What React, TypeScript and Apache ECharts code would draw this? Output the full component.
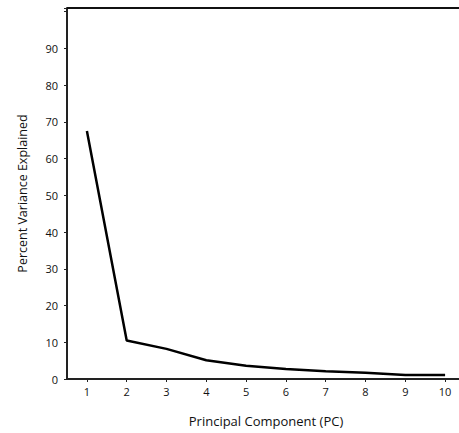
import React, { useEffect, useRef } from "react";
import * as echarts from "echarts";

const categories = ["1", "2", "3", "4", "5", "6", "7", "8", "9", "10"];
const variance = [67.5, 10.5, 8.2, 5.1, 3.6, 2.7, 2.1, 1.7, 1.1, 1.1];
const yTicks = [0, 10, 20, 30, 40, 50, 60, 70, 80, 90];
const yMax = 101;

export default function App() {
  const ref = useRef<HTMLDivElement>(null);
  useEffect(() => {
    if (!ref.current) return;
    const chart = echarts.init(ref.current, undefined, { renderer: "svg" });
    const font = "'Open Sans', 'Noto Sans', sans-serif";
    chart.setOption({
      animation: false,
      backgroundColor: "#fff",
      grid: {
        left: 67,
        top: 8,
        width: 398,
        height: 371,
        show: false,
        containLabel: false,
        outerBoundsMode: "none",
      },
      xAxis: [
        {
          type: "category",
          data: categories,
          boundaryGap: true,
          name: "Principal Component (PC)",
          nameLocation: "middle",
          nameGap: 35,
          nameTextStyle: { fontFamily: font, fontSize: 13, color: "#111" },
          axisLine: { show: true, onZero: false, lineStyle: { color: "#222", width: 2 } },
          axisTick: { show: true, alignWithLabel: true, length: 3, lineStyle: { color: "#222" } },
          axisLabel: { fontFamily: font, fontSize: 11, color: "#111", margin: 7 },
          splitLine: { show: false },
        },
      ],
      yAxis: {
        type: "value",
        min: 0,
        max: yMax,
        interval: 10,
        name: "Percent Variance Explained",
        nameLocation: "middle",
        nameGap: 38,
        nameTextStyle: { fontFamily: font, fontSize: 12.5, color: "#111" },
        axisLine: { show: true, lineStyle: { color: "#222", width: 2 } },
        axisTick: { show: true, length: 3, lineStyle: { color: "#222" } },
        axisLabel: {
          fontFamily: font,
          fontSize: 11,
          color: "#111",
          margin: 9,
          formatter: (v: number) => (yTicks.includes(v) ? String(v) : ""),
        },
        splitLine: { show: false },
      },
      series: [
        {
          type: "line",
          data: variance,
          symbol: "none",
          lineStyle: { color: "#000", width: 2.5 },
          markLine: {
            silent: true,
            symbol: ["none", "none"],
            label: { show: false },
            lineStyle: { color: "#111", width: 2, type: "solid" },
            data: [{ yAxis: yMax }],
          },
        },
      ],
    });
    return () => chart.dispose();
  }, []);
  return (
    <div
      ref={ref}
      style={{ position: "absolute", left: 0, top: 0, width: 459, height: 433 }}
    />
  );
}
